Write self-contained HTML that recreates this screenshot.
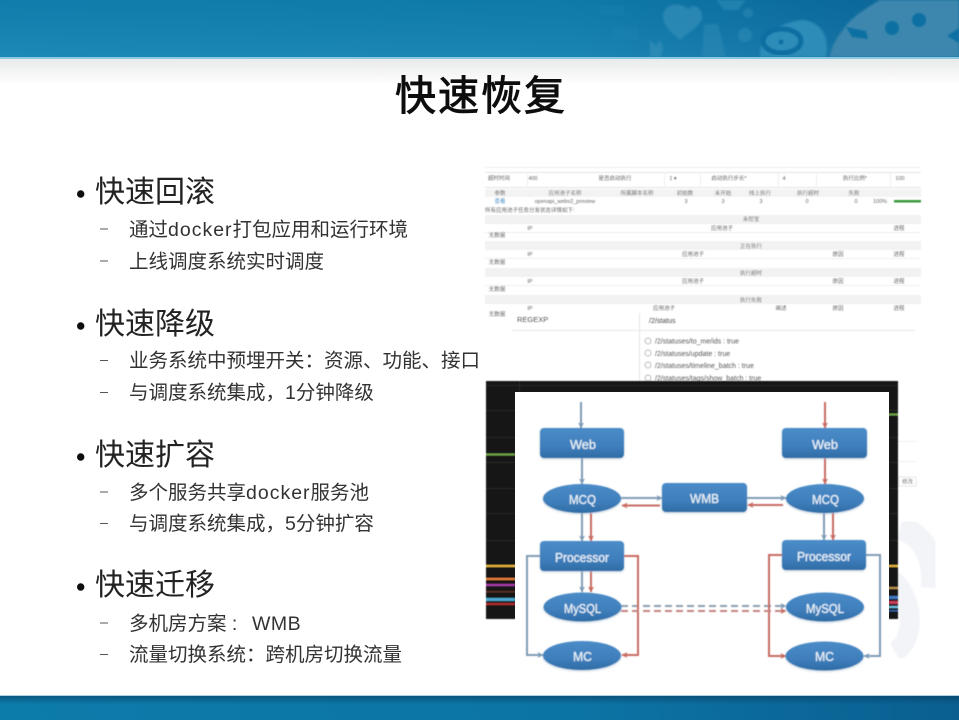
<!DOCTYPE html>
<html lang="zh">
<head>
<meta charset="utf-8">
<title>快速恢复</title>
<style>
html,body{margin:0;padding:0;background:#fff;width:959px;height:720px;overflow:hidden}
svg{display:block}
text{font-family:"Liberation Sans","Noto Sans CJK SC",sans-serif}
.h{font-size:30px;fill:#222}
.s{font-size:19.5px;fill:#333}
.t{font-size:5.5px;fill:#666;text-anchor:middle}
.tl{font-size:5.5px;fill:#666}
.n{font-size:12.5px;fill:#e6f0f8;stroke:#e6f0f8;stroke-width:.25;font-family:"Liberation Sans",sans-serif}
</style>
</head>
<body>
<svg width="959" height="720" viewBox="0 0 959 720" xmlns="http://www.w3.org/2000/svg">
<defs>
<linearGradient id="top" x1="0" x2="1" y1="0" y2="0">
<stop offset="0" stop-color="#1083b2"/><stop offset=".6" stop-color="#0f7fae"/><stop offset=".85" stop-color="#0c6fa3"/><stop offset="1" stop-color="#0c6a9c"/>
</linearGradient>
<linearGradient id="topv" x1="0" x2="0" y1="0" y2="1">
<stop offset="0" stop-color="#000" stop-opacity=".04"/><stop offset="1" stop-color="#fff" stop-opacity=".05"/>
</linearGradient>
<linearGradient id="fade" x1="0" x2="0" y1="0" y2="1">
<stop offset="0" stop-color="#e9eaeb"/><stop offset="1" stop-color="#fff"/>
</linearGradient>
<linearGradient id="bot" x1="0" x2="1" y1="0" y2="0">
<stop offset="0" stop-color="#0c7cab"/><stop offset=".6" stop-color="#0c74a4"/><stop offset="1" stop-color="#0a5f90"/>
</linearGradient>
<linearGradient id="botv" x1="0" x2="0" y1="0" y2="1">
<stop offset="0" stop-color="#083a5e" stop-opacity=".55"/><stop offset=".35" stop-color="#083a5e" stop-opacity="0"/>
</linearGradient>
<linearGradient id="node" x1="0" x2="0" y1="0" y2="1">
<stop offset="0" stop-color="#4a8cc8"/><stop offset=".6" stop-color="#3f7fbc"/><stop offset="1" stop-color="#2f6ca6"/>
</linearGradient>
<filter id="b1" x="-5%" y="-5%" width="110%" height="110%"><feGaussianBlur stdDeviation="0.7"/></filter>
<filter id="b2" x="-5%" y="-5%" width="110%" height="110%"><feGaussianBlur stdDeviation="0.55"/></filter>
<filter id="bt" x="-5%" y="-5%" width="110%" height="110%"><feGaussianBlur stdDeviation="0.3"/></filter>
<filter id="b3" x="-5%" y="-5%" width="110%" height="110%"><feGaussianBlur stdDeviation="1"/></filter>
<filter id="sh" x="-10%" y="-10%" width="120%" height="130%"><feGaussianBlur stdDeviation="1"/></filter>
<marker id="ab" markerWidth="7" markerHeight="7" refX="5.5" refY="3" orient="auto" markerUnits="userSpaceOnUse"><path d="M0,0 L6,3 L0,6 L1.5,3 Z" fill="#7f9cb6"/></marker>
<marker id="ar" markerWidth="7" markerHeight="7" refX="5.5" refY="3" orient="auto" markerUnits="userSpaceOnUse"><path d="M0,0 L6,3 L0,6 L1.5,3 Z" fill="#c76a62"/></marker>
</defs>

<!-- header band -->
<rect x="0" y="0" width="959" height="57" fill="url(#top)"/>
<rect x="0" y="0" width="959" height="57" fill="url(#topv)"/>
<g filter="url(#b3)">
<g fill="#2f8cb8" fill-opacity=".8">
<path d="M663,14 C666,3 680,2 688,9 C694,3 703,8 702,18 C700,27 688,32 680,40 C672,33 662,26 663,14 Z"/>
<path d="M650,40 l6,6 l4,-6 l3,8 l-2,9 h-11z"/>
<path d="M704,24 h14 l8,33 h-24z" fill-opacity=".5"/>
<circle cx="748" cy="13" r="5" fill-opacity=".5"/>
<circle cx="745" cy="35" r="7" fill-opacity=".55"/>
<path d="M716,0 h30 l-8,10 h-14z" fill-opacity=".6"/>
<path d="M600,5 h24 v10 h-24z" fill-opacity=".2"/>
<path d="M612,28 h26 v12 h-26z" fill-opacity=".2"/>
</g>
<path d="M760,57 C758,38 778,22 803,20 C820,22 830,35 826,57 Z" fill="#2f8cb8"/>
<path d="M830,57 C832,42 842,32 848,23 C858,13 870,6 880,0 L959,0 L959,57 Z" fill="#3d87ae"/>
</g>
<g filter="url(#b1)">
<ellipse cx="782" cy="41" rx="19" ry="12" fill="none" stroke="#0d6ea2" stroke-width="5"/>
<circle cx="781" cy="42" r="2.500" fill="#0d6ea2"/>
<path d="M846,27 L866,31 L868,39 L852,37 Z" fill="#0c6fa3"/>
<circle cx="892" cy="28" r="7" fill="#0c6fa3"/>
<circle cx="919" cy="20" r="7" fill="#0c6fa3"/>
<path d="M959,28 L947,36 L959,43 Z" fill="#0c6fa3"/>
</g>
<rect x="0" y="57" width="959" height="2" fill="#8ccae2"/>
<rect x="0" y="59" width="959" height="26" fill="url(#fade)"/>

<!-- watermark -->
<g fill="none" stroke="#f3f4f8" filter="url(#b1)">
<path d="M900,528 C925,535 935,560 933,588" stroke-width="24"/>
<path d="M893,580 C915,600 915,640 895,652" stroke-width="20"/>
</g>

<!-- title -->
<text x="395" y="110" font-size="41" letter-spacing="2" fill="#0a0a0a" stroke="#0a0a0a" stroke-width=".9" filter="url(#bt)">快速恢复</text>

<!-- bullets -->
<g filter="url(#bt)">
<circle cx="80.700" cy="194" r="3.700" fill="#111"/>
<text x="95" y="202" class="h">快速回滚</text>
<rect x="100" y="228.500" width="8" height="1" fill="#555"/>
<text x="129" y="236" class="s">通过<tspan letter-spacing="1">docker</tspan>打包应用和运行环境</text>
<rect x="100" y="260.500" width="8" height="1" fill="#555"/>
<text x="129" y="268" class="s">上线调度系统实时调度</text>

<circle cx="80.700" cy="326" r="3.700" fill="#111"/>
<text x="95" y="334" class="h">快速降级</text>
<rect x="100" y="360" width="8" height="1" fill="#555"/>
<text x="129" y="367" class="s">业务系统中预埋开关：资源、功能、接口</text>
<rect x="100" y="392" width="8" height="1" fill="#555"/>
<text x="129" y="399" class="s">与调度系统集成，1分钟降级</text>

<circle cx="80.700" cy="457" r="3.700" fill="#111"/>
<text x="95" y="465" class="h">快速扩容</text>
<rect x="100" y="491.500" width="8" height="1" fill="#555"/>
<text x="129" y="499" class="s">多个服务共享<tspan letter-spacing="1">docker</tspan>服务池</text>
<rect x="100" y="523" width="8" height="1" fill="#555"/>
<text x="129" y="530" class="s">与调度系统集成，5分钟扩容</text>

<circle cx="80.700" cy="587" r="3.700" fill="#111"/>
<text x="95" y="595" class="h">快速迁移</text>
<rect x="100" y="622.500" width="8" height="1" fill="#555"/>
<text x="129" y="630" class="s">多机房方案 :<tspan x="252" letter-spacing=".5">WMB</tspan></text>
<rect x="100" y="654" width="8" height="1" fill="#555"/>
<text x="129" y="661" class="s">流量切换系统：跨机房切换流量</text>
</g>

<!-- screenshot 1: table -->
<g filter="url(#b2)">
<rect x="485" y="167" width="436" height="1" fill="#eee"/>
<rect x="485" y="172" width="436" height="1" fill="#e2e2e2"/>
<rect x="485" y="187" width="436" height="1" fill="#e2e2e2"/>
<g fill="#ececec"><rect x="527" y="172" width="1" height="14"/><rect x="664" y="172" width="1" height="14"/><rect x="700" y="172" width="1" height="14"/><rect x="778" y="172" width="1" height="14"/><rect x="816" y="172" width="1" height="14"/><rect x="890" y="172" width="1" height="14"/></g>
<text x="499" y="180" class="t">超时时间</text><text x="533" y="180" class="t">400</text>
<text x="615" y="180" class="t">是否启动执行</text><text x="673" y="180" class="t">1 ▾</text>
<text x="729" y="180" class="t">启动执行步长*</text><text x="784" y="180" class="t">4</text>
<text x="855" y="180" class="t">执行比例*</text><text x="900" y="180" class="t">100</text>
<rect x="485" y="189" width="436" height="8" fill="#f3f3f3"/>
<g>
<text x="500" y="195" class="t">参数</text><text x="565" y="195" class="t">应用池子名称</text><text x="637" y="195" class="t">所属脚本名称</text>
<text x="685" y="195" class="t">初始数</text><text x="723" y="195" class="t">未开始</text><text x="760" y="195" class="t">线上执行</text>
<text x="808" y="195" class="t">执行超时</text><text x="854" y="195" class="t">失败</text>
<text x="500" y="203" class="t" style="fill:#4a90c8">查看</text><text x="565" y="203" class="t">openapi_webv2_preview</text>
<text x="686" y="203" class="t">3</text><text x="723" y="203" class="t">3</text><text x="761" y="203" class="t">3</text><text x="807" y="203" class="t">0</text><text x="856" y="203" class="t">0</text>
<text x="880" y="203" class="t">100%</text>
</g>
<rect x="894" y="200" width="27" height="2.500" fill="#3a9a3a"/>
<text x="485" y="212" class="tl">所有应用池子任务分发状态详情如下:</text>

<rect x="485" y="215" width="436" height="9" fill="#f2f2f2"/>
<text x="751" y="221" class="t">未挖宝</text>
<text x="530" y="230" class="t">IP</text><text x="722" y="230" class="t">应用池子</text><text x="899" y="230" class="t">进程</text>
<rect x="485" y="232" width="436" height="1" fill="#eee"/>
<text x="497" y="237" class="t">无数据</text>

<rect x="485" y="241" width="436" height="9" fill="#f2f2f2"/>
<text x="751" y="248" class="t">正在执行</text>
<text x="530" y="256" class="t">IP</text><text x="693" y="256" class="t">应用池子</text><text x="838" y="256" class="t">原因</text><text x="899" y="256" class="t">进程</text>
<rect x="485" y="258" width="436" height="1" fill="#eee"/>
<text x="497" y="264" class="t">无数据</text>

<rect x="485" y="268" width="436" height="9" fill="#f2f2f2"/>
<text x="751" y="275" class="t">执行超时</text>
<text x="530" y="283" class="t">IP</text><text x="693" y="283" class="t">应用池子</text><text x="838" y="283" class="t">原因</text><text x="899" y="283" class="t">进程</text>
<rect x="485" y="285" width="436" height="1" fill="#eee"/>
<text x="497" y="291" class="t">无数据</text>

<rect x="485" y="295" width="436" height="9" fill="#f2f2f2"/>
<text x="751" y="302" class="t">执行失败</text>
<text x="530" y="310" class="t">IP</text><text x="664" y="310" class="t">应用池子</text><text x="781" y="310" class="t">阐述</text><text x="838" y="310" class="t">原因</text><text x="899" y="310" class="t">进程</text>
<text x="497" y="316" class="t">无数据</text>
</g>

<!-- screenshot 2: regexp -->
<g filter="url(#b2)">
<rect x="639" y="313" width="1" height="68" fill="#e4e4e4"/>
<rect x="512" y="330" width="403" height="1" fill="#e8e8e8"/>
<text x="517" y="322" font-size="7.500" fill="#555">REGEXP</text>
<text x="649" y="323" font-size="7" fill="#444">/2/status</text>
<g fill="none" stroke="#aaa" stroke-width=".8">
<circle cx="648" cy="341" r="3"/><circle cx="648" cy="353" r="3"/><circle cx="648" cy="365" r="3"/><circle cx="648" cy="378" r="3"/>
</g>
<g font-size="7" fill="#555">
<text x="655" y="343.500">/2/statuses/to_me/ids : true</text>
<text x="655" y="356">/2/statuses/update : true</text>
<text x="655" y="368">/2/statuses/timeline_batch : true</text>
<text x="655" y="380.500">/2/statuses/tags/show_batch : true</text>
</g>
<rect x="898" y="441" width="18" height="1" fill="#eee"/>
<rect x="898" y="461" width="18" height="1" fill="#eee"/>
<rect x="899" y="477" width="17" height="9" fill="#fff" stroke="#ddd" stroke-width=".7"/>
<text x="907.500" y="483.500" class="t">修改</text>
</g>

<!-- dark panel -->
<g filter="url(#b2)">
<rect x="486" y="381" width="412" height="238" fill="#141414"/>
<g fill="#2b2b2b">
<rect x="486" y="385" width="412" height="1"/><rect x="486" y="410" width="412" height="1"/><rect x="486" y="437" width="412" height="1"/>
<rect x="486" y="462" width="412" height="1"/><rect x="486" y="488" width="412" height="1"/><rect x="486" y="513" width="412" height="1"/><rect x="486" y="540" width="412" height="1"/>
<rect x="519" y="381" width="1" height="11"/>
</g>
<rect x="486" y="453.500" width="29" height="2" fill="#6da04a"/>
<rect x="888" y="413.500" width="10" height="2" fill="#6da04a"/>
<rect x="486" y="565" width="412" height="2" fill="#e6b53c"/>
<rect x="486" y="578" width="29" height="2" fill="#e8813a"/>
<rect x="486" y="584" width="29" height="2" fill="#a83aa8"/>
<rect x="486" y="591" width="29" height="1.500" fill="#5a3020"/>
<rect x="486" y="598" width="29" height="3" fill="#4aa8d0"/>
<rect x="486" y="603" width="29" height="2" fill="#b03030"/>
<rect x="888" y="587" width="10" height="2" fill="#b89050"/>
<rect x="888" y="596" width="10" height="3" fill="#3c78c0"/>
<rect x="888" y="601" width="10" height="3" fill="#c8405a"/>
<rect x="888" y="606" width="10" height="2" fill="#70c0e0"/>
<rect x="888" y="610" width="10" height="1.500" fill="#3060a0"/>
</g>

<!-- white diagram panel -->
<rect x="515" y="392" width="374" height="290" fill="#fff"/>

<!-- diagram -->
<g filter="url(#b2)">
<!-- connectors -->
<g fill="none" stroke-width="2">
<g stroke="#7f9cb6">
<path d="M581,402 V428" marker-end="url(#ab)"/>
<path d="M582,458 V484" marker-end="url(#ab)"/>
<path d="M621,498 H662" marker-end="url(#ab)"/>
<path d="M582,513 V541" marker-end="url(#ab)"/>
<path d="M582,571 V592" marker-end="url(#ab)"/>
<path d="M540,556 H527 V655 H543" marker-end="url(#ab)"/>
<path d="M747,498 H786" marker-end="url(#ab)"/>
<path d="M824,513 V540" marker-end="url(#ab)"/>
<path d="M866,555 H880 V656 H864" marker-end="url(#ab)"/>
<path d="M621,606 H786" stroke-dasharray="7 4" stroke="#8c9fb2" marker-end="url(#ab)"/>
</g>
<g stroke="#c76a62">
<path d="M825,402 V428" marker-end="url(#ar)"/>
<path d="M825,458 V484" marker-end="url(#ar)"/>
<path d="M660,505.500 H622" marker-end="url(#ar)"/>
<path d="M783,505 H748" marker-end="url(#ar)"/>
<path d="M591,513 V541" marker-end="url(#ar)"/>
<path d="M833,513 V540" marker-end="url(#ar)"/>
<path d="M591,571 V592" marker-end="url(#ar)"/>
<path d="M624,556 H638 V655 H622" marker-end="url(#ar)"/>
<path d="M782,555 H769 V656 H786" marker-end="url(#ar)"/>
<path d="M621,611 H786" stroke-dasharray="7 4" stroke="#c48480" marker-end="url(#ar)"/>
</g>
</g>
<!-- shadows -->
<g fill="#9db6cc" filter="url(#sh)" opacity=".7">
<rect x="540" y="429" width="84" height="30" rx="4"/><rect x="782" y="429" width="85" height="30" rx="4"/>
<rect x="662" y="484" width="85" height="29" rx="4"/><rect x="540" y="542" width="84" height="30" rx="4"/><rect x="782" y="541" width="84" height="30" rx="4"/>
<ellipse cx="582" cy="499.500" rx="39" ry="14.500"/><ellipse cx="825" cy="499.500" rx="39" ry="14.500"/>
<ellipse cx="582.500" cy="608" rx="39" ry="14.500"/><ellipse cx="825" cy="608" rx="39" ry="14.500"/>
<ellipse cx="582" cy="656.500" rx="39" ry="14.500"/><ellipse cx="824.500" cy="657" rx="39" ry="14.500"/>
</g>
<!-- nodes -->
<g fill="url(#node)">
<rect x="540" y="428" width="84" height="30" rx="4"/>
<rect x="782" y="428" width="85" height="30" rx="4"/>
<rect x="662" y="483" width="85" height="29" rx="4"/>
<rect x="540" y="541" width="84" height="30" rx="4"/>
<rect x="782" y="540" width="84" height="30" rx="4"/>
<ellipse cx="582" cy="498.500" rx="39" ry="14.500"/>
<ellipse cx="825" cy="498.500" rx="39" ry="14.500"/>
<ellipse cx="582.500" cy="607" rx="39" ry="14.500"/>
<ellipse cx="825" cy="607" rx="39" ry="14.500"/>
<ellipse cx="582" cy="655.500" rx="39" ry="14.500"/>
<ellipse cx="824.500" cy="656" rx="39" ry="14.500"/>
</g>
<text x="570" y="449" class="n" textLength="26" lengthAdjust="spacingAndGlyphs">Web</text>
<text x="812" y="449" class="n" textLength="26" lengthAdjust="spacingAndGlyphs">Web</text>
<text x="569" y="504" class="n" textLength="27" lengthAdjust="spacingAndGlyphs">MCQ</text>
<text x="812" y="504" class="n" textLength="27" lengthAdjust="spacingAndGlyphs">MCQ</text>
<text x="690" y="503" class="n" textLength="29" lengthAdjust="spacingAndGlyphs">WMB</text>
<text x="555" y="562" class="n" textLength="54" lengthAdjust="spacingAndGlyphs">Processor</text>
<text x="797" y="561" class="n" textLength="54" lengthAdjust="spacingAndGlyphs">Processor</text>
<text x="564" y="613" class="n" textLength="37" lengthAdjust="spacingAndGlyphs">MySQL</text>
<text x="806" y="613" class="n" textLength="38" lengthAdjust="spacingAndGlyphs">MySQL</text>
<text x="573" y="661" class="n" textLength="19" lengthAdjust="spacingAndGlyphs">MC</text>
<text x="815" y="661" class="n" textLength="19" lengthAdjust="spacingAndGlyphs">MC</text>
</g>

<!-- footer band -->
<rect x="0" y="695" width="959" height="1.500" fill="#a8d2e2"/>
<rect x="0" y="696" width="959" height="24" fill="url(#bot)"/>
<rect x="0" y="696" width="959" height="24" fill="url(#botv)"/>
</svg>
</body>
</html>
